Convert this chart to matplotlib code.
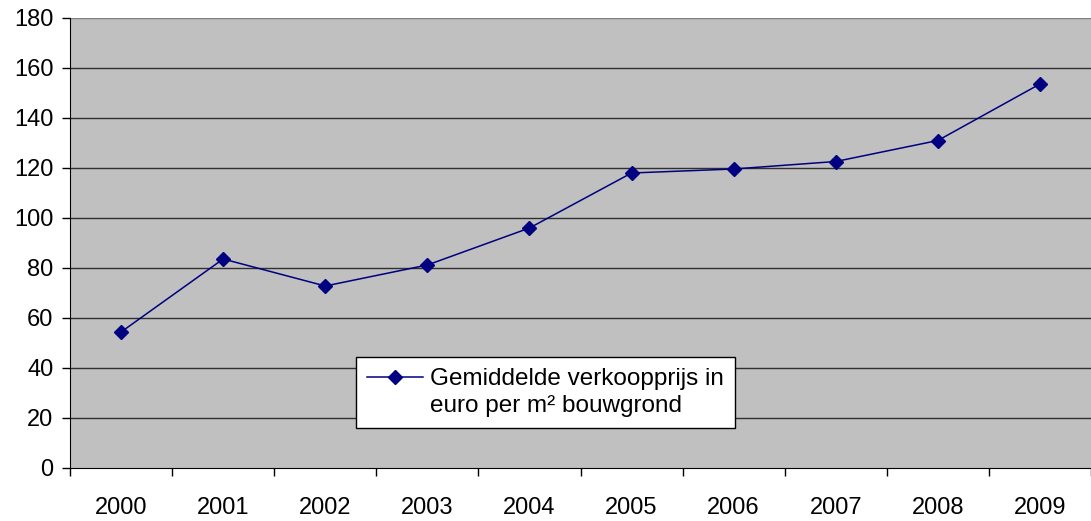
import matplotlib
matplotlib.use("Agg")
import matplotlib.pyplot as plt
import numpy as np

plt.rcParams['font.family'] = ['Liberation Sans', 'DejaVu Sans']

years = ['2000', '2001', '2002', '2003', '2004', '2005', '2006', '2007', '2008', '2009']
prices = [54.4, 83.6, 72.8, 81.2, 96.0, 118.0, 119.6, 122.6, 131.0, 153.6]
series_label = 'Gemiddelde verkoopprijs in\neuro per m² bouwgrond'
yticks = [0, 20, 40, 60, 80, 100, 120, 140, 160, 180]

W, H = 1091, 521
fig = plt.figure(figsize=(W / 100, H / 100), dpi=100)
ax = fig.add_axes([70 / W, 53 / H, 1 - 70 / W, (468 - 18) / H])
ax.set_facecolor('#C0C0C0')

x = np.arange(len(years))
ax.plot(x, prices, color='#000080', lw=1.1, marker='D', ms=7.5,
        mfc='#000080', mec='#000080', label=series_label, zorder=3)

ax.set_xlim(-0.5, len(years) - 0.5)
ax.set_ylim(0, 180)
ax.set_yticks(yticks)
ax.set_yticklabels([str(v) for v in yticks])
for v in yticks[1:]:
    ax.axhline(v, color='#303030' if v < 180 else '#808080', lw=1.0, zorder=1)

ax.set_xticks(np.arange(-0.5, len(years) + 0.5, 1.0))
ax.set_xticklabels([])
ax.set_xticks(x, minor=True)
ax.set_xticklabels(years, minor=True)
ax.tick_params(axis='x', which='major', direction='out', length=6, width=1, color='black')
ax.tick_params(axis='x', which='minor', length=0, pad=21, labelsize=17)
ax.tick_params(axis='y', direction='out', length=6, width=1, pad=6, labelsize=17)

for s in ['top', 'right']:
    ax.spines[s].set_visible(False)
ax.spines['left'].set_color('black')
ax.spines['bottom'].set_color('black')

leg = ax.legend(loc='upper left', bbox_to_anchor=(356 / W, 1 - 357 / H),
                bbox_transform=fig.transFigure, borderaxespad=0,
                fancybox=False, framealpha=1, edgecolor='black',
                fontsize=17.5, handlelength=2.3, handletextpad=0.3,
                borderpad=0.45, labelspacing=0.2)
leg.get_frame().set_linewidth(1.0)
for t in leg.get_texts():
    t.set_linespacing(1.3)
# align the legend handle with the first text line
for h in leg.legend_handles:
    yd = np.asarray(h.get_ydata(), dtype=float)
    h.set_ydata(yd + 11.5)

fig.savefig('out.png', dpi=100)
